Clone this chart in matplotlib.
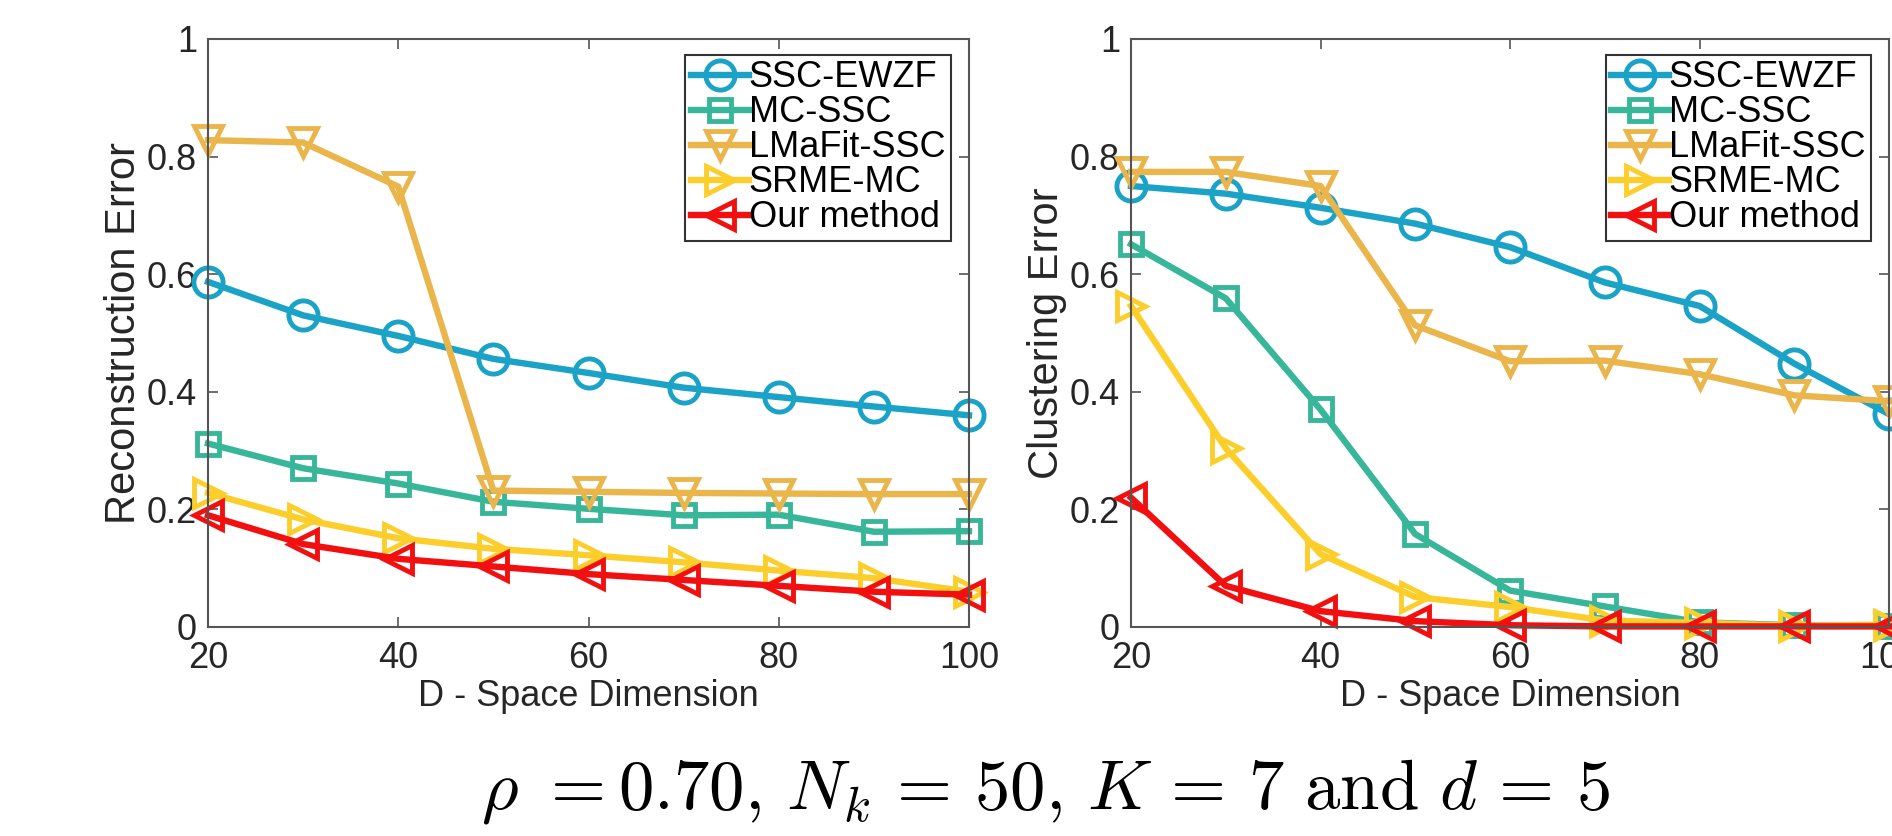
import matplotlib
matplotlib.use("Agg")
import matplotlib.pyplot as plt

plt.rcParams['font.family'] = ['Liberation Sans', 'DejaVu Sans']
plt.rcParams['mathtext.fontset'] = 'cm'

# D - space dimension
dims = [20, 30, 40, 50, 60, 70, 80, 90, 100]

methods = ['SSC-EWZF', 'MC-SSC', 'LMaFit-SSC', 'SRME-MC', 'Our method']
colors = ['#1AA3C7', '#37B699', '#EAB54B', '#FCCE2C', '#F20F0F']
markers = ['o', 's', 'v', '>', '<']
msizes = [21, 16, 20, 20, 20]

# reconstruction error (left)
ssc_ewzf_rec = [0.587, 0.530, 0.495, 0.456, 0.432, 0.407, 0.391, 0.375, 0.360]
mc_ssc_rec = [0.312, 0.270, 0.244, 0.213, 0.201, 0.190, 0.191, 0.162, 0.163]
lmafit_rec = [0.828, 0.824, 0.749, 0.232, 0.230, 0.228, 0.227, 0.226, 0.226]
srme_rec = [0.228, 0.183, 0.151, 0.133, 0.122, 0.110, 0.096, 0.083, 0.060]
ours_rec = [0.190, 0.141, 0.116, 0.103, 0.090, 0.080, 0.070, 0.060, 0.055]

# clustering error (right)
ssc_ewzf_clu = [0.750, 0.737, 0.713, 0.686, 0.646, 0.586, 0.546, 0.448, 0.362]
mc_ssc_clu = [0.651, 0.559, 0.370, 0.158, 0.062, 0.035, 0.008, 0.003, 0.002]
lmafit_clu = [0.774, 0.774, 0.750, 0.513, 0.452, 0.453, 0.430, 0.394, 0.384]
srme_clu = [0.546, 0.304, 0.124, 0.051, 0.034, 0.011, 0.007, 0.002, 0.004]
ours_clu = [0.220, 0.070, 0.027, 0.010, 0.003, 0.001, 0.001, 0.001, 0.001]

rec = [ssc_ewzf_rec, mc_ssc_rec, lmafit_rec, srme_rec, ours_rec]
clu = [ssc_ewzf_clu, mc_ssc_clu, lmafit_clu, srme_clu, ours_clu]

xticks = [20, 40, 60, 80, 100]
yticks = [0, 0.2, 0.4, 0.6, 0.8, 1]
yticklabels = ['0', '0.2', '0.4', '0.6', '0.8', '1']

W, H = 1892, 836
fig = plt.figure(figsize=(W / 100, H / 100), dpi=100)


def make_panel(left_px, width_px, series, ylabel):
    ax = fig.add_axes([left_px / W, (H - 627) / H, width_px / W, 588 / H])
    for vals, name, c, m, ms in zip(series, methods, colors, markers, msizes):
        ax.plot(dims, vals, color=c, marker=m, markersize=ms, markerfacecolor='none',
                markeredgewidth=3.5, linewidth=4.6, label=name, clip_on=False)
    ax.set_xlim(20, 100)
    ax.set_ylim(0, 1)
    ax.set_xticks(xticks)
    ax.set_yticks(yticks)
    ax.set_yticklabels(yticklabels)
    ax.tick_params(direction='in', length=7, width=1.2, colors='#555555',
                   labelcolor='#262626', labelsize=26, top=True, right=True, pad=8)
    ax.tick_params(axis='x', pad=10)
    for sp in ax.spines.values():
        sp.set_color('#555555')
        sp.set_linewidth(1.5)
    ax.set_xlabel('D - Space Dimension', fontsize=26, color='#262626', labelpad=2)
    ax.set_ylabel(ylabel, fontsize=30, color='#262626', labelpad=2)
    leg = ax.legend(loc='upper right', bbox_to_anchor=(0.976, 0.973), borderaxespad=0,
                    fontsize=26, handlelength=1.6, handletextpad=0.0, labelspacing=0.0,
                    borderpad=0.15, fancybox=False, framealpha=1, edgecolor='#333333')
    leg.get_frame().set_linewidth(1.5)
    return ax


make_panel(208, 761, rec, 'Reconstruction Error')
make_panel(1131, 758, clu, 'Clustering Error')

fig.text(1046 / W, 1 - 808 / H,
         r'$\rho\ {=}0.70,\,N_k\,{=}\,50,\,K\,{=}\,7\ \mathrm{and}\ d\,{=}\,5$',
         fontsize=51, ha='center', va='baseline')

fig.savefig('out.png', dpi=100)
